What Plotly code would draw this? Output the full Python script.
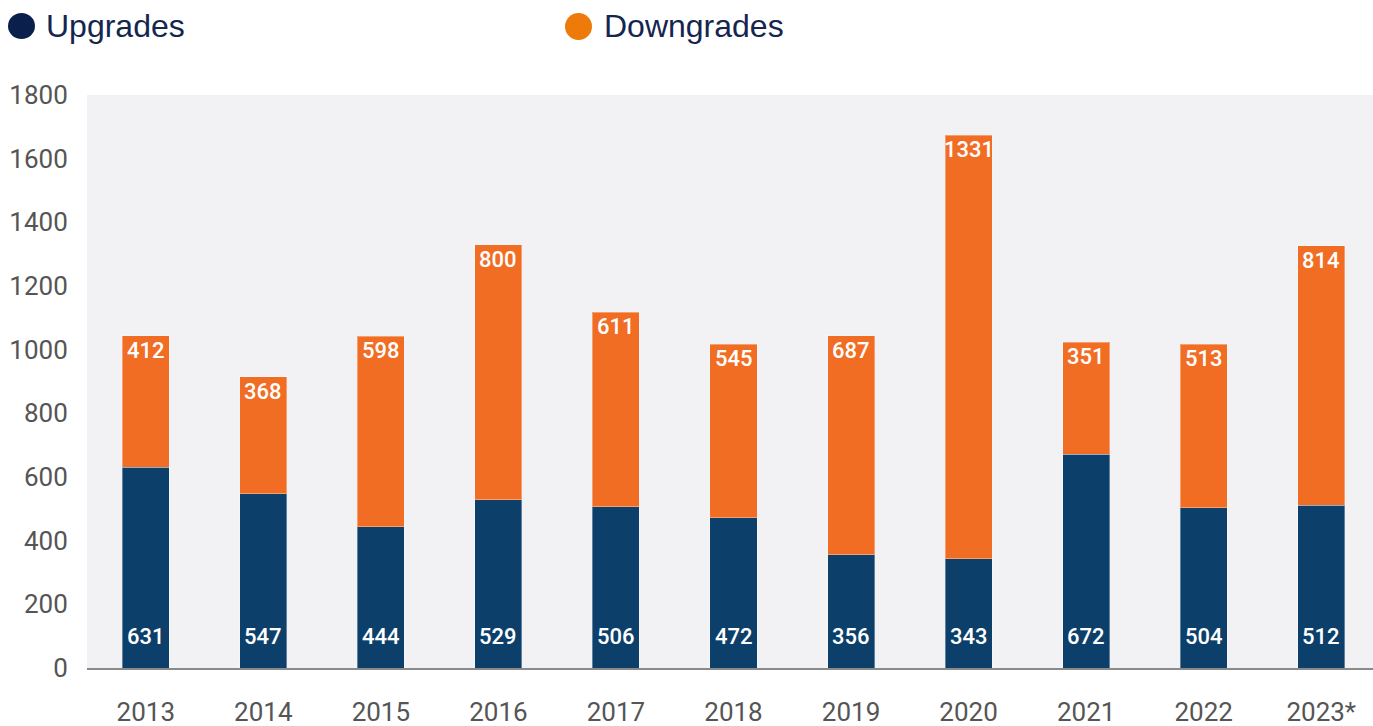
import plotly.graph_objects as go

years = ["2013", "2014", "2015", "2016", "2017", "2018", "2019", "2020", "2021", "2022", "2023*"]
upgrades = [631, 547, 444, 529, 506, 472, 356, 343, 672, 504, 512]
downgrades = [412, 368, 598, 800, 611, 545, 687, 1331, 351, 513, 814]
totals = [u + d for u, d in zip(upgrades, downgrades)]

W, H = 1380, 726
L, T, B = 87, 95, 58
PW, PH = W - L, H - T - B

def px(xp):
    return (xp - L) / PW

def py(yp):
    return 1 - (yp - T) / PH

fig = go.Figure()
fig.add_trace(go.Bar(x=years, y=upgrades, name="Upgrades", marker_color="#0d3f6b",
                     marker_line=dict(width=1, color="rgba(255,255,255,0.35)"), width=0.40))
fig.add_trace(go.Bar(x=years, y=downgrades, name="Downgrades", marker_color="#f26d24",
                     marker_line=dict(width=1, color="rgba(255,255,255,0.35)"), width=0.40))

annotations = []
lab_font = dict(family="Roboto Medium, Roboto", size=22, color="white")
for i, (u, t, d) in enumerate(zip(upgrades, totals, downgrades)):
    annotations.append(dict(x=i, y=0, xref="x", yref="y", text=str(u), showarrow=False,
                            yanchor="bottom", yshift=17, font=lab_font))
    annotations.append(dict(x=i, y=t, xref="x", yref="y", text=str(d), showarrow=False,
                            yanchor="top", yshift=0, font=lab_font))

leg_font = dict(family="Liberation Sans", size=32, color="#14264f")
annotations.append(dict(x=px(44), y=py(26), xref="paper", yref="paper", text="Upgrades",
                        showarrow=False, xanchor="left", yanchor="middle", font=leg_font))
annotations.append(dict(x=px(602), y=py(26), xref="paper", yref="paper", text="Downgrades",
                        showarrow=False, xanchor="left", yanchor="middle", font=leg_font))

shapes = [
    dict(type="circle", xref="paper", yref="paper", x0=px(8), x1=px(35), y0=py(39), y1=py(13),
         fillcolor="#0b1f4d", line_width=0),
    dict(type="circle", xref="paper", yref="paper", x0=px(565), x1=px(592), y0=py(40), y1=py(13),
         fillcolor="#ee7a0a", line_width=0),
]

fig.update_layout(
    barmode="stack",
    width=W, height=H,
    margin=dict(l=L, r=0, t=T, b=B),
    paper_bgcolor="white",
    plot_bgcolor="#f2f2f4",
    showlegend=False,
    annotations=annotations,
    shapes=shapes,
    xaxis=dict(type="category", range=[-0.5, len(years) - 0.5], showgrid=False, showline=True,
               linecolor="#8a8a8a", linewidth=2,
               ticks="outside", ticklen=20, tickcolor="rgba(0,0,0,0)", automargin=False,
               tickfont=dict(family="Roboto", size=26, color="#555555"), fixedrange=True),
    yaxis=dict(range=[0, 1800], dtick=200, showgrid=False, zeroline=False, automargin=False,
               ticks="outside", ticklen=13, tickcolor="rgba(0,0,0,0)",
               tickfont=dict(family="Roboto", size=26, color="#555555")),
)

fig.write_html("out.html", config={"displayModeBar": False},
               post_script="document.body.style.margin='0';document.body.style.overflow='hidden';")
